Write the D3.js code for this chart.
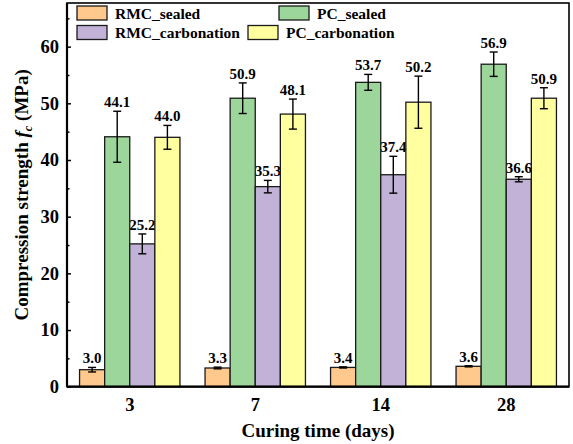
<!DOCTYPE html>
<html><head><meta charset="utf-8">
<script src="https://cdn.jsdelivr.net/npm/d3@7"></script>
<style>body{margin:0;background:#fff}svg{display:block}text{font-family:"Liberation Serif","Times New Roman",serif;font-weight:bold;fill:#000}</style>
</head><body><svg id="c" width="573" height="444"></svg>
<script>
const categories = ["3", "7", "14", "28"];
const seriesNames = ["RMC_sealed", "PC_sealed", "RMC_carbonation", "PC_carbonation"];
const RMC_sealed = [3.0, 3.3, 3.4, 3.6];
const PC_sealed = [44.1, 50.9, 53.7, 56.9];
const RMC_carbonation = [25.2, 35.3, 37.4, 36.6];
const PC_carbonation = [44.0, 48.1, 50.2, 50.9];
const RMC_sealed_err = [0.4, 0.15, 0.1, 0.1];
const PC_sealed_err = [4.5, 2.7, 1.4, 2.15];
const RMC_carbonation_err = [1.75, 1.1, 3.25, 0.45];
const PC_carbonation_err = [2.1, 2.65, 4.6, 1.85];
const yTicks = [0, 10, 20, 30, 40, 50, 60];
const colors = ["#FFC88C", "#9DD69B", "#C3B2D7", "#FFFFA0"];

const values = [RMC_sealed, PC_sealed, RMC_carbonation, PC_carbonation];
const errors = [RMC_sealed_err, PC_sealed_err, RMC_carbonation_err, PC_carbonation_err];

const L = 67, R = 569, T = 3, B = 386.7;
const svg = d3.select("#c");
const x = d3.scaleBand().domain(categories).range([L, R]).paddingInner(0.2).paddingOuter(0.1);
const xs = d3.scaleBand().domain(seriesNames).range([0, x.bandwidth()]);
const y = d3.scaleLinear().domain([0, 67.7]).range([B, T]);

const data = [];
categories.forEach((c, i) => seriesNames.forEach((s, j) => data.push({c, s, j, v: values[j][i], e: errors[j][i]})));

// value labels (drawn beneath bars)
svg.append("g").selectAll("text").data(data).join("text")
  .attr("x", d => x(d.c) + xs(d.s) + xs.bandwidth() / 2)
  .attr("y", d => y(d.v + d.e) - 4)
  .attr("text-anchor", "middle").attr("font-size", 15)
  .text(d => d.v.toFixed(1));

// bars
svg.append("g").selectAll("rect").data(data).join("rect")
  .attr("x", d => x(d.c) + xs(d.s))
  .attr("y", d => y(d.v))
  .attr("width", xs.bandwidth())
  .attr("height", d => B - y(d.v))
  .attr("fill", d => colors[d.j]).attr("stroke", "#1a1a1a").attr("stroke-width", 1.3);

// error bars
const eg = svg.append("g").attr("stroke", "#000").attr("stroke-width", 1.4).attr("fill", "none");
data.forEach(d => {
  const cx = x(d.c) + xs(d.s) + xs.bandwidth() / 2;
  const y1 = y(d.v + d.e), y0 = y(d.v - d.e);
  eg.append("line").attr("x1", cx).attr("x2", cx).attr("y1", y1).attr("y2", y0);
  eg.append("line").attr("x1", cx - 4).attr("x2", cx + 4).attr("y1", y1).attr("y2", y1);
  eg.append("line").attr("x1", cx - 4).attr("x2", cx + 4).attr("y1", y0).attr("y2", y0);
});

// frame
svg.append("rect").attr("x", L).attr("y", T).attr("width", R - L).attr("height", B - T)
  .attr("fill", "none").attr("stroke", "#000").attr("stroke-width", 1.6);
svg.append("line").attr("x1", L).attr("x2", R).attr("y1", B).attr("y2", B).attr("stroke", "#000").attr("stroke-width", 2.2);
svg.append("line").attr("x1", L).attr("x2", L).attr("y1", T).attr("y2", B).attr("stroke", "#000").attr("stroke-width", 2.2);

// y axis
const yAxis = svg.append("g").attr("transform", `translate(${L},0)`)
  .call(d3.axisLeft(y).tickValues(yTicks).tickSize(-4).tickPadding(8));
yAxis.select(".domain").remove();
yAxis.selectAll("text").attr("font-size", 18.5).style("font-family", "Liberation Serif").style("font-weight", "bold");
yAxis.selectAll("line").attr("stroke-width", 1.5);
svg.append("g").attr("transform", `translate(${L},0)`)
  .call(d3.axisLeft(y).tickValues([5, 15, 25, 35, 45, 55, 65]).tickSize(-2.5).tickFormat(""))
  .call(g => g.select(".domain").remove())
  .selectAll("line").attr("stroke-width", 1.5);

// x axis labels
const xAxis = svg.append("g").attr("transform", `translate(0,${B})`)
  .call(d3.axisBottom(x).tickSize(0).tickPadding(11));
xAxis.select(".domain").remove();
xAxis.selectAll("text").attr("font-size", 18.5).style("font-family", "Liberation Serif").style("font-weight", "bold");

// axis titles
svg.append("text").attr("x", (L + R) / 2).attr("y", 437).attr("text-anchor", "middle").attr("font-size", 19)
  .text("Curing time (days)");
const yt = svg.append("text").attr("transform", `translate(28,${(T + B) / 2}) rotate(-90)`)
  .attr("text-anchor", "middle").attr("font-size", 19);
yt.append("tspan").text("Compression strength ");
yt.append("tspan").attr("font-style", "italic").text("f");
yt.append("tspan").attr("font-style", "italic").attr("font-size", 12.5).attr("dy", 4).text("c");
yt.append("tspan").attr("dy", -4).text(" (MPa)");

// legend
const legendPos = [[77, 6], [279, 6], [77, 25.5], [248, 25.5]];
const lg = svg.append("g");
seriesNames.forEach((s, j) => {
  const [lx, ly] = legendPos[j];
  lg.append("rect").attr("x", lx).attr("y", ly).attr("width", 30).attr("height", 14)
    .attr("fill", colors[j]).attr("stroke", "#1a1a1a").attr("stroke-width", 1.3);
  lg.append("text").attr("x", lx + 38).attr("y", ly + 12.5).attr("font-size", 15.5).text(s);
});
</script></body></html>
